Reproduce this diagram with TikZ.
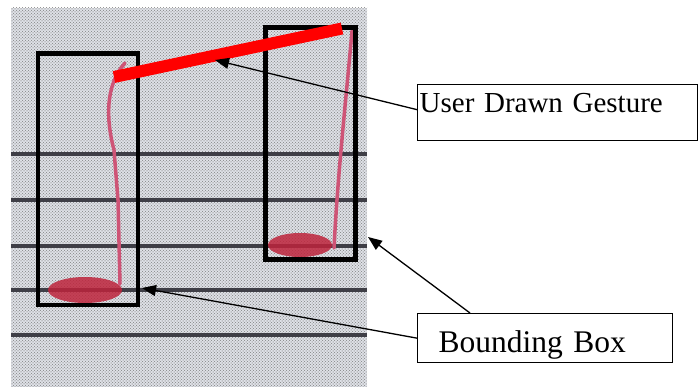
\documentclass[tikz,border=0pt]{standalone}
\usepackage{fontspec}
\setmainfont{Liberation Serif}
\usetikzlibrary{arrows.meta,patterns}
\definecolor{paper}{RGB}{222,225,231}
\definecolor{inkline}{RGB}{62,62,70}
\definecolor{penpink}{RGB}{206,84,118}
\definecolor{penhead}{RGB}{190,36,60}
\begin{document}
\begin{tikzpicture}[x=1pt,y=-1pt,
  staff/.style={inkline,line width=3.4pt},
  stem/.style={penpink,line width=3.5pt,line cap=round},
  nhead/.style={fill=penhead,opacity=0.85},
  bbox/.style={draw=black,line width=4.5pt},
  lbl/.style={draw=black,line width=1.3pt,anchor=north west,align=left,inner ysep=0pt},
  arr/.style={-{Triangle[length=14pt,width=11pt]},line width=1.3pt}]
\useasboundingbox (0,0) rectangle (700,387);
\fill[paper] (11,8) rectangle (367,387);
\fill[pattern=crosshatch dots,pattern color=gray] (11,8) rectangle (367,387);
\fill[pattern=dots,pattern color=gray!70] (11,8) rectangle (367,387);
\foreach \y in {154,200,246,290,335}
  \draw[staff] (11,\y) -- (367,\y);
\fill[nhead] (85,290) ellipse [x radius=37, y radius=13];
\fill[nhead] (300,245) ellipse [x radius=32, y radius=12];
\draw[stem] (125,63) .. controls (105,85) and (106,120) .. (114,150) -- (118,200) -- (120,284);
\draw[stem] (352,31) .. controls (346,100) and (338,170) .. (334,248);
\draw[bbox] (38,53.5) rectangle (138,305);
\draw[bbox] (265.5,27.5) rectangle (355.5,259.5);
\draw[red,line width=12pt] (114,77) -- (342,28.5);
\coordinate (gtip) at (215,60);
\coordinate (ltip) at (142,288);
\coordinate (rtip) at (368,237);
\node[lbl,inner xsep=2pt,text width=276pt,text height=28pt,text depth=28pt,font=\fontsize{29}{34}\selectfont] (gesture) at (417,84) {User Drawn Gesture};
\node[lbl,inner xsep=21pt,text width=213pt,text height=39pt,text depth=10pt,font=\fontsize{31.5}{36}\selectfont] (boxlbl) at (417,313) {Bounding Box};
\draw[arr] ([yshift=3pt]gesture.west) -- (gtip);
\draw[arr] (boxlbl.west) -- (ltip);
\draw[arr] ([xshift=53pt]boxlbl.north west) -- (rtip);
\end{tikzpicture}
\end{document}
